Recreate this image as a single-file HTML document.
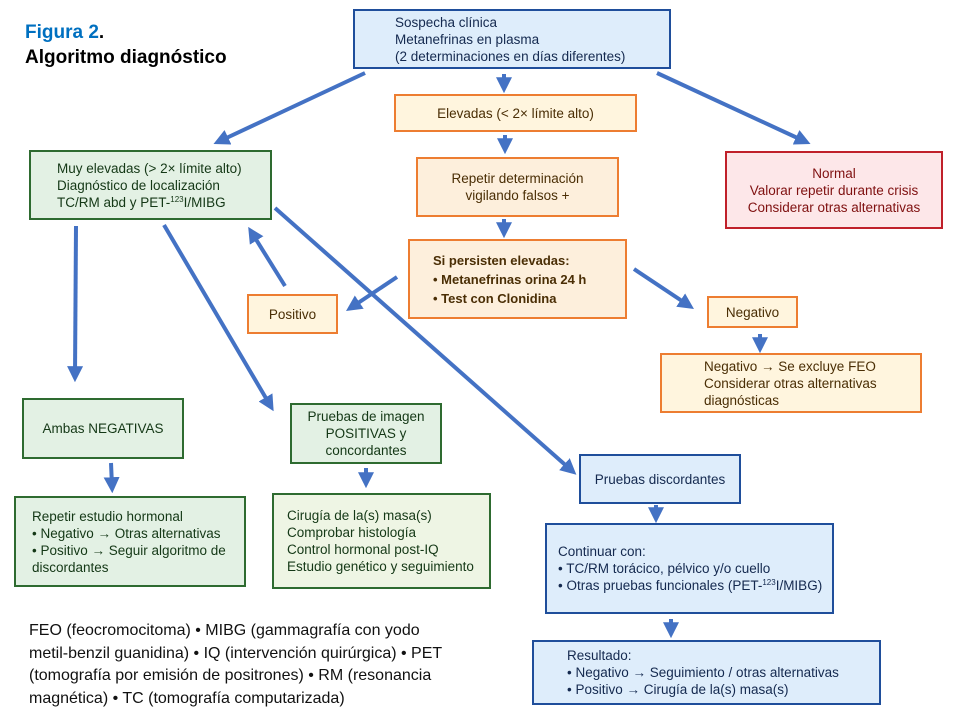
<!DOCTYPE html>
<html><head><meta charset="utf-8"><style>
body{margin:0;width:960px;height:720px;background:#fff;position:relative;overflow:hidden;font-family:"Liberation Sans",sans-serif;}
.b{position:absolute;box-sizing:border-box;border:2px solid;font-size:13.5px;line-height:17px;display:flex;flex-direction:column;justify-content:center;white-space:nowrap;}
.bl{background:#deedfb;border-color:#1f4e9b;color:#14294f;}
.or{background:#fff5de;border-color:#ed7d31;color:#4a2e05;}
.or2{background:#fdefdc;border-color:#ed7d31;color:#4a2e05;}
.gr{background:#e3f1e4;border-color:#2e6b30;color:#143816;}
.gr2{background:#eef5e4;border-color:#2e6b30;color:#143816;}
.rd{background:#fde7e9;border-color:#c0202a;color:#7f1010;}
.c{text-align:center;}
sup{font-size:8px;line-height:0;vertical-align:5px;}
svg{position:absolute;left:0;top:0;}
</style></head><body>
<div style="position:absolute;left:25px;top:22px;font-size:19px;font-weight:bold;color:#0070c0">Figura 2<span style="color:#000">.</span></div>
<div style="position:absolute;left:25px;top:47px;font-size:19px;font-weight:bold;color:#000">Algoritmo diagnóstico</div>

<div class="b bl" style="left:353px;top:9px;width:318px;height:60px;padding-left:40px"><div>Sospecha clínica<br>Metanefrinas en plasma<br>(2 determinaciones en días diferentes)</div></div>
<div class="b or c" style="left:394px;top:94px;width:243px;height:38px"><div>Elevadas (&lt; 2× límite alto)</div></div>
<div class="b or2 c" style="left:416px;top:157px;width:203px;height:60px"><div>Repetir determinación<br>vigilando falsos +</div></div>
<div class="b or2" style="left:408px;top:239px;width:219px;height:80px;padding-left:23px;font-weight:bold;font-size:13px;line-height:19px"><div>Si persisten elevadas:<br>• Metanefrinas orina 24 h<br>• Test con Clonidina</div></div>
<div class="b gr" style="left:29px;top:150px;width:243px;height:70px;padding-left:26px"><div>Muy elevadas (&gt; 2× límite alto)<br>Diagnóstico de localización<br>TC/RM abd y PET-<sup>123</sup>I/MIBG</div></div>
<div class="b rd c" style="left:725px;top:151px;width:218px;height:78px"><div>Normal<br>Valorar repetir durante crisis<br>Considerar otras alternativas</div></div>
<div class="b or c" style="left:247px;top:294px;width:91px;height:40px"><div>Positivo</div></div>
<div class="b or c" style="left:707px;top:296px;width:91px;height:32px"><div>Negativo</div></div>
<div class="b or" style="left:660px;top:353px;width:262px;height:60px;padding-left:42px"><div>Negativo → Se excluye FEO<br>Considerar otras alternativas<br>diagnósticas</div></div>
<div class="b gr c" style="left:22px;top:398px;width:162px;height:61px"><div>Ambas NEGATIVAS</div></div>
<div class="b gr c" style="left:290px;top:403px;width:152px;height:61px"><div>Pruebas de imagen<br>POSITIVAS y<br>concordantes</div></div>
<div class="b gr" style="left:14px;top:496px;width:232px;height:91px;padding-left:16px"><div>Repetir estudio hormonal<br>• Negativo → Otras alternativas<br>• Positivo → Seguir algoritmo de<br>discordantes</div></div>
<div class="b gr2" style="left:272px;top:493px;width:219px;height:96px;padding-left:13px"><div>Cirugía de la(s) masa(s)<br>Comprobar histología<br>Control hormonal post-IQ<br>Estudio genético y seguimiento</div></div>
<div class="b bl c" style="left:579px;top:454px;width:162px;height:50px"><div>Pruebas discordantes</div></div>
<div class="b bl" style="left:545px;top:523px;width:289px;height:91px;padding-left:11px"><div>Continuar con:<br>• TC/RM torácico, pélvico y/o cuello<br>• Otras pruebas funcionales (PET-<sup>123</sup>I/MIBG)</div></div>
<div class="b bl" style="left:532px;top:640px;width:349px;height:65px;padding-left:33px"><div>Resultado:<br>• Negativo → Seguimiento / otras alternativas<br>• Positivo → Cirugía de la(s) masa(s)</div></div>

<div style="position:absolute;left:29px;top:620px;font-size:16px;line-height:22.5px;color:#111;width:422px">FEO (feocromocitoma) • MIBG (gammagrafía con yodo metil-benzil guanidina) • IQ (intervención quirúrgica) • PET (tomografía por emisión de positrones) • RM (resonancia magnética) • TC (tomografía computarizada)</div>

<svg width="960" height="720">
<defs><marker id="a" markerWidth="4" markerHeight="4" refX="2.2" refY="2" orient="auto" markerUnits="strokeWidth"><path d="M0,0 L4,2 L0,4 z" fill="#4472c4"/></marker></defs>
<g stroke="#4472c4" stroke-width="4" fill="none" marker-end="url(#a)">
<line x1="365" y1="73" x2="220" y2="141"/>
<line x1="657" y1="73" x2="804" y2="141"/>
<line x1="504" y1="74" x2="504" y2="86"/>
<line x1="505" y1="135" x2="505" y2="147"/>
<line x1="504" y1="219" x2="504" y2="231"/>
<line x1="397" y1="277" x2="352" y2="307"/>
<line x1="285" y1="286" x2="252" y2="233"/>
<line x1="76" y1="226" x2="75" y2="375"/>
<line x1="164" y1="225" x2="270" y2="405"/>
<line x1="275" y1="208" x2="571" y2="470"/>
<line x1="634" y1="269" x2="688" y2="305"/>
<line x1="760" y1="334" x2="760" y2="346"/>
<line x1="111" y1="463" x2="112" y2="486"/>
<line x1="366" y1="468" x2="366" y2="481"/>
<line x1="656" y1="505" x2="656" y2="516"/>
<line x1="671" y1="619" x2="671" y2="631"/>
</g></svg>
</body></html>
